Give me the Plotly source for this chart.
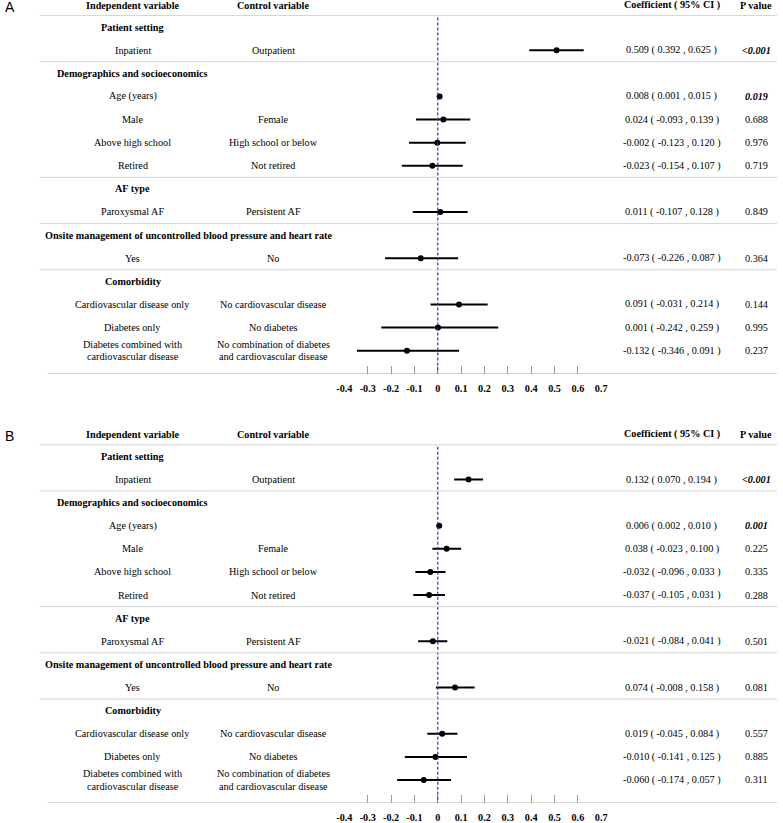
import plotly.graph_objects as go

# ---- data ----
groups = ["Patient setting", "Demographics and socioeconomics", "AF type",
          "Onsite management of uncontrolled blood pressure and heart rate", "Comorbidity"]
group_slots = [0, 2, 7, 9, 11]

independent = ["Inpatient", "Age (years)", "Male", "Above high school", "Retired",
               "Paroxysmal AF", "Yes", "Cardiovascular disease only", "Diabetes only",
               "Diabetes combined with|cardiovascular disease"]
control = ["Outpatient", "", "Female", "High school or below", "Not retired",
           "Persistent AF", "No", "No cardiovascular disease", "No diabetes",
           "No combination of diabetes|and cardiovascular disease"]
row_slots = [1, 3, 4, 5, 6, 8, 10, 12, 13, 14]

coef_a = [0.509, 0.008, 0.024, -0.002, -0.023, 0.011, -0.073, 0.091, 0.001, -0.132]
low_a = [0.392, 0.001, -0.093, -0.123, -0.154, -0.107, -0.226, -0.031, -0.242, -0.346]
high_a = [0.625, 0.015, 0.139, 0.120, 0.107, 0.128, 0.087, 0.214, 0.259, 0.091]
p_a = ["<0.001", "0.019", "0.688", "0.976", "0.719", "0.849", "0.364", "0.144", "0.995", "0.237"]

coef_b = [0.132, 0.006, 0.038, -0.032, -0.037, -0.021, 0.074, 0.019, -0.010, -0.060]
low_b = [0.070, 0.002, -0.023, -0.096, -0.105, -0.084, -0.008, -0.045, -0.141, -0.174]
high_b = [0.194, 0.010, 0.100, 0.033, 0.031, 0.041, 0.158, 0.084, 0.125, 0.057]
p_b = ["<0.001", "0.001", "0.225", "0.335", "0.288", "0.501", "0.081", "0.557", "0.885", "0.311"]

tick_vals = [-0.4, -0.3, -0.2, -0.1, 0, 0.1, 0.2, 0.3, 0.4, 0.5, 0.6, 0.7]
tick_labels = ["-0.4", "-0.3", "-0.2", "-0.1", "0", "0.1", "0.2", "0.3", "0.4", "0.5", "0.6", "0.7"]
separator_slots = [1.5, 6.5, 8.5, 10.5]

SERIF = "Liberation Serif, Times New Roman, serif"
W, H = 783, 823

fig = go.Figure()
annotations = []
shapes = []


def px(x):
    return x / W


def label(text, x, y, yref, font, anchor="center"):
    annotations.append(dict(text=text, xref="paper", yref=yref, x=px(x), y=y,
                            xanchor=anchor, yanchor="middle", showarrow=False, font=font))


def add_panel(letter, coef, low, high, pvals, xa, ya):
    xref = "x" if xa == 1 else "x%d" % xa
    yref = "y" if ya == 1 else "y%d" % ya

    # CI lines
    xs, ys = [], []
    for lo, hi, s in zip(low, high, row_slots):
        xs += [lo, hi, None]
        ys += [s, s, None]
    fig.add_trace(go.Scatter(x=xs, y=ys, mode="lines", line=dict(color="black", width=2),
                             xaxis=xref, yaxis=yref, showlegend=False, hoverinfo="skip"))
    fig.add_trace(go.Scatter(x=coef, y=row_slots, mode="markers",
                             marker=dict(color="black", size=6),
                             xaxis=xref, yaxis=yref, showlegend=False))

    # zero reference line
    shapes.append(dict(type="line", xref=xref, yref=yref, x0=0, x1=0, y0=-0.42, y1=15,
                       line=dict(color="#2f2fd0", width=1.2, dash="3px,2px")))
    # header and separators
    for s in [-0.5] + separator_slots:
        shapes.append(dict(type="line", xref="paper", yref=yref, x0=px(32), x1=1, y0=s, y1=s,
                           line=dict(color="#d6d6d6", width=1)))
    shapes.append(dict(type="line", xref="paper", yref=yref, x0=px(40), x1=1, y0=15, y1=15,
                       line=dict(color="#b0b0b0", width=1.2)))

    # panel letter
    label(letter, -5, -0.88, yref, dict(family="Liberation Sans, Arial", size=14, color="black"),
          anchor="left")
    # column headers
    hdr = dict(family=SERIF, size=10.2, color="black")
    for txt, xc in [("Independent variable", 127), ("Control variable", 270),
                    ("Coefficient ( 95% CI )", 676), ("P value", 762)]:
        label("<b>%s</b>" % txt, xc, -0.95, yref, hdr)
    # group headings
    for g, s in zip(groups, group_slots):
        if len(g) > 40:
            label("<b>%s</b>" % g, 36, s, yref, hdr, anchor="left")
        else:
            label("<b>%s</b>" % g, 127, s, yref, hdr)
    # row labels
    body = dict(family=SERIF, size=10.2, color="black")
    for i, s in enumerate(row_slots):
        for txt, xc in [(independent[i], 127), (control[i], 270)]:
            parts = txt.split("|")
            if len(parts) == 1:
                label(txt, xc, s, yref, body)
            else:
                for k, part in enumerate(parts):
                    label(part, xc, s - 0.27 + 0.54 * k, yref, body)
        ci = "%.3f ( %.3f , %.3f )" % (coef[i], low[i], high[i])
        label(ci, 676, s, yref, body)
        p = pvals[i]
        pv = float(p.strip("<"))
        ptxt = "<b><i>%s</i></b>" % p if (p.startswith("<") or pv < 0.05) else p
        label(ptxt, 762, s, yref, body)


add_panel("A", coef_a, low_a, high_a, p_a, 1, 1)
add_panel("B", coef_b, low_b, high_b, p_b, 2, 2)

xdom = [px(342.5), px(604)]
xcommon = dict(domain=xdom, range=[-0.4, 0.7], tickvals=tick_vals,
               ticktext=["<b>%s</b>" % t for t in tick_labels],
               ticks="inside", ticklen=8, tickcolor="#999999", tickwidth=1,
               showline=False, showgrid=False, zeroline=False, ticklabelstandoff=7,
               tickfont=dict(family=SERIF, size=10.2, color="black"))
ycommon = dict(range=[15, -1], visible=False, showgrid=False, zeroline=False)

fig.update_layout(
    width=W, height=H,
    margin=dict(l=0, r=0, t=0, b=0),
    paper_bgcolor="white", plot_bgcolor="white",
    xaxis=dict(anchor="y", **xcommon),
    xaxis2=dict(anchor="y2", **xcommon),
    yaxis=dict(domain=[1 - 377 / H, 1 - 4 / H], anchor="x", **ycommon),
    yaxis2=dict(domain=[1 - 810 / H, 1 - 437 / H], anchor="x2", **ycommon),
    shapes=shapes,
    annotations=annotations,
    showlegend=False,
)

fig.write_html("out.html", config={"displayModeBar": False},
               post_script="document.body.style.margin='0';")
